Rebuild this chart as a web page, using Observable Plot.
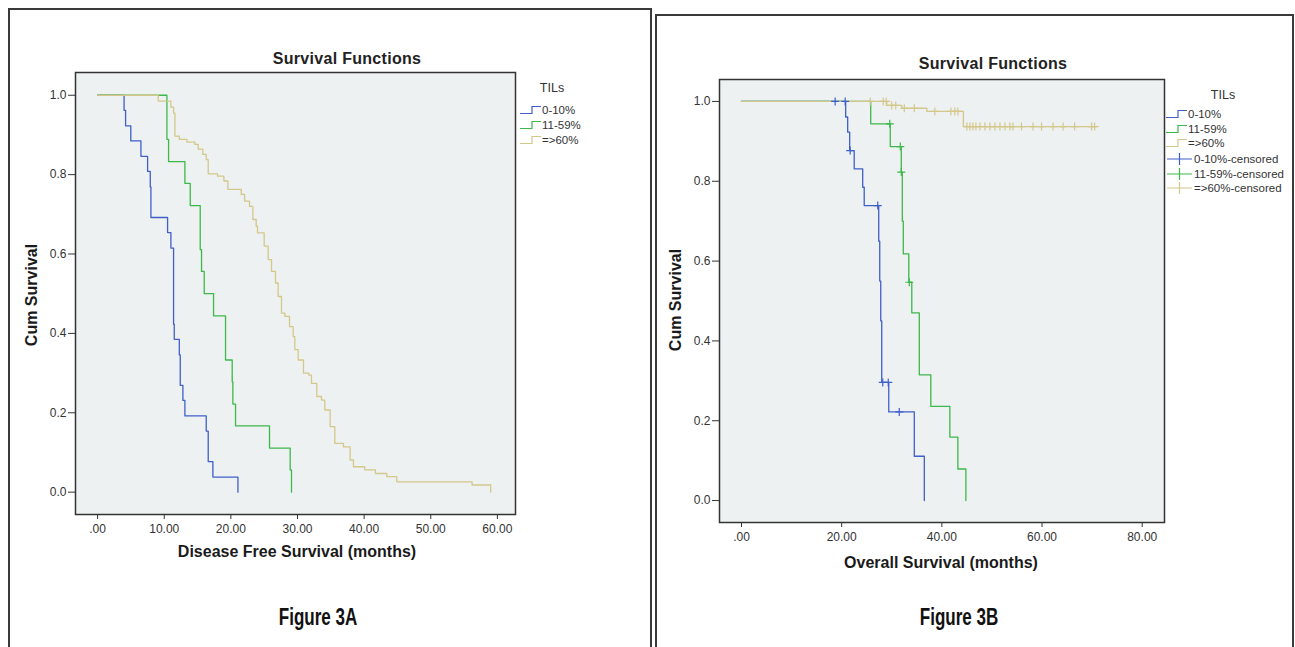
<!DOCTYPE html>
<html>
<head>
<meta charset="utf-8">
<script src="https://cdn.jsdelivr.net/npm/d3@7"></script>
<script src="https://cdn.jsdelivr.net/npm/@observablehq/plot@0.6"></script>
<style>
  html, body { margin: 0; padding: 0; background: #fff; }
  body { width: 1295px; height: 647px; position: relative; overflow: hidden; font-family: "Liberation Sans", Arial, sans-serif; color: #222; }
  .box { position: absolute; box-sizing: border-box; border: 2px solid #3a3a3a; }
  .t { position: absolute; white-space: nowrap; transform: translate(-50%, -50%); }
  .title { font-weight: bold; font-size: 16px; letter-spacing: 0.3px; color: #222; }
  .axl { font-weight: bold; font-size: 16px; color: #1a1a1a; }
  .fig { font-family: "Liberation Sans", Arial, sans-serif; font-weight: bold; font-size: 23px; color: #111; }
  .leg { position: absolute; font-size: 11.5px; color: #333; white-space: nowrap; }
  .plot { position: absolute; top: 0; }
</style>
</head>
<body>
<div class="box" style="left:8px;top:8px;width:644px;height:650px;"></div>
<div class="box" style="left:655px;top:14px;width:639px;height:645px;"></div>
<div id="chartA" class="plot" style="left:0px;"></div>
<div id="chartB" class="plot" style="left:655px;"></div>
<div id="labels"></div>
<script>
// ---------- DATA ----------
const groups = ["0-10%", "11-59%", "=>60%"];
const groupColors = ["#3f5fcb", "#3db84a", "#d3c88a"];

const xTicksA = [0, 10, 20, 30, 40, 50, 60];
const xTicksB = [0, 20, 40, 60, 80];
const yTicks = [0, 0.2, 0.4, 0.6, 0.8, 1.0];

// Figure 3A: Disease free survival (step curves: value after each event time)
const dfsBlueT = [0, 3.97, 4.2, 4.98, 6.5, 7.5, 7.9, 8.0, 10.5, 11.0, 11.4, 11.5, 12.26, 12.4, 12.8, 13.1, 16.3, 16.6, 17.3, 21.06];
const dfsBlueS = [1, 0.962, 0.923, 0.885, 0.846, 0.808, 0.769, 0.692, 0.654, 0.615, 0.423, 0.385, 0.346, 0.269, 0.231, 0.192, 0.154, 0.077, 0.038, 0];

const dfsGreenT = [0, 10.4, 10.65, 13.1, 13.9, 15.4, 15.6, 16.0, 17.4, 19.2, 20.2, 20.3, 20.7, 25.8, 28.9, 29.1];
const dfsGreenS = [1, 0.889, 0.833, 0.778, 0.722, 0.611, 0.556, 0.5, 0.444, 0.333, 0.278, 0.222, 0.167, 0.111, 0.056, 0];

const dfsTanT = [0, 9.1, 11.0, 11.4, 11.6, 12.26, 13.4, 14.6, 15.1, 15.8, 16.3, 16.6, 18.0, 18.95, 19.55, 21.56, 22.06, 22.8, 23.3, 23.8, 24.0, 25.0, 25.6, 26.1, 26.7, 27.1, 27.6, 28.1, 28.8, 29.35, 29.6, 30.1, 30.9, 31.7, 32.1, 32.9, 33.6, 34.1, 34.9, 35.6, 36.9, 37.9, 38.4, 40.1, 41.7, 43.4, 44.9, 56.2, 59.0];
const dfsTanS = [1, 0.985, 0.97, 0.955, 0.897, 0.889, 0.882, 0.876, 0.864, 0.851, 0.838, 0.802, 0.796, 0.784, 0.763, 0.75, 0.733, 0.72, 0.687, 0.67, 0.653, 0.62, 0.586, 0.556, 0.527, 0.493, 0.451, 0.443, 0.417, 0.392, 0.359, 0.333, 0.3, 0.295, 0.274, 0.241, 0.232, 0.207, 0.165, 0.123, 0.114, 0.081, 0.064, 0.056, 0.047, 0.039, 0.026, 0.018, 0];

// Figure 3B: Overall survival
const osBlueT = [0, 20.8, 21.2, 21.6, 22.5, 24.2, 24.5, 27.4, 27.6, 27.8, 28.0, 29.4, 34.5, 36.5];
const osBlueS = [1, 0.961, 0.923, 0.877, 0.831, 0.785, 0.739, 0.65, 0.55, 0.45, 0.296, 0.222, 0.111, 0];
const osBlueCensT = [18.7, 20.7, 21.7, 27.2, 28.2, 29.3, 31.5];
const osBlueCensS = [1, 1, 0.877, 0.739, 0.296, 0.296, 0.222];

const osGreenT = [0, 25.8, 29.7, 31.9, 32.1, 32.3, 33.4, 34.0, 35.5, 37.8, 41.6, 43.2, 44.8];
const osGreenS = [1, 0.944, 0.887, 0.823, 0.70, 0.618, 0.547, 0.47, 0.315, 0.236, 0.159, 0.079, 0];
const osGreenCensT = [29.6, 31.7, 31.9, 33.5];
const osGreenCensS = [0.944, 0.887, 0.823, 0.547];

const osTanT = [0, 29.0, 32.0, 37.0, 44.3, 70.9];
const osTanS = [1, 0.99, 0.983, 0.975, 0.937, 0.937];
const osTanCensT = [25.7, 28.3, 28.9, 30.0, 30.8, 32.5, 34.5, 38.6, 41.8, 42.6, 43.2, 45.0, 45.6, 46.2, 46.8, 47.6, 48.6, 49.6, 50.6, 51.6, 52.6, 53.6, 54.2, 55.9, 58.2, 59.9, 62.2, 64.2, 66.5, 69.9, 70.5];

// ---------- HELPERS ----------
const zip = (T, S) => T.map((t, i) => ({t, s: S[i]}));
function stepAt(T, S, t) { let v = S[0]; for (let i = 0; i < T.length; i++) if (T[i] <= t) v = S[i]; return v; }
const plusSym = { draw(ctx, size) { const r = Math.sqrt(size / Math.PI); ctx.moveTo(-r, 0); ctx.lineTo(r, 0); ctx.moveTo(0, -r); ctx.lineTo(0, r); } };
const fmtX = d => d === 0 ? ".00" : d.toFixed(2);
const fmtY = d => d.toFixed(1);
const plotStyle = {fontFamily: "'Liberation Sans', Arial, sans-serif", fontSize: "12px", color: "#333", background: "transparent", overflow: "visible"};
const bg = "#eef1f2";
const order = [0, 1, 2]; // tan drawn last (on top)

// ---------- CHART A ----------
const curvesA = [zip(dfsBlueT, dfsBlueS), zip(dfsGreenT, dfsGreenS), zip(dfsTanT, dfsTanS)];
const chartA = Plot.plot({
  width: 652, height: 600,
  marginLeft: 75, marginTop: 72, marginRight: 137, marginBottom: 86,
  style: plotStyle,
  x: {domain: [-3.32, 62.72], ticks: xTicksA, tickFormat: fmtX, tickSize: 5, tickPadding: 5, label: null},
  y: {domain: [-0.0563, 1.0573], ticks: yTicks, tickFormat: fmtY, tickSize: 7, tickPadding: 2, label: null},
  marks: [
    Plot.frame({fill: bg, stroke: null}),
    ...order.map(i => Plot.line(curvesA[i], {x: "t", y: "s", curve: "step-after", stroke: groupColors[i], strokeWidth: 1.3})),
    Plot.frame({stroke: "#333", strokeWidth: 1.5})
  ]
});
document.getElementById("chartA").appendChild(chartA);

// ---------- CHART B ----------
const curvesB = [zip(osBlueT, osBlueS), zip(osGreenT, osGreenS), zip(osTanT, osTanS)];
const censB = [
  zip(osBlueCensT, osBlueCensS),
  zip(osGreenCensT, osGreenCensS),
  osTanCensT.map(t => ({t, s: stepAt(osTanT, osTanS, t)}))
];
const chartB = Plot.plot({
  width: 640, height: 600,
  marginLeft: 64, marginTop: 79, marginRight: 131, marginBottom: 78,
  style: plotStyle,
  x: {domain: [-4.39, 84.45], ticks: xTicksB, tickFormat: fmtX, tickSize: 5, tickPadding: 5, label: null},
  y: {domain: [-0.055, 1.055], ticks: yTicks, tickFormat: fmtY, tickSize: 7, tickPadding: 2, label: null},
  marks: [
    Plot.frame({fill: bg, stroke: null}),
    ...order.map(i => Plot.line(curvesB[i], {x: "t", y: "s", curve: "step-after", stroke: groupColors[i], strokeWidth: 1.3})),
    ...order.map(i => Plot.dot(censB[i], {x: "t", y: "s", symbol: plusSym, r: 4, fill: "none", stroke: groupColors[i], strokeWidth: 1.2})),
    Plot.frame({stroke: "#333", strokeWidth: 1.5})
  ]
});
document.getElementById("chartB").appendChild(chartB);

// ---------- TEXT & LEGENDS ----------
const L = document.getElementById("labels");
function txt(cls, s, x, y, tf) {
  const d = document.createElement("div");
  d.className = "t " + cls; d.textContent = s;
  d.style.left = x + "px"; d.style.top = y + "px";
  if (tf) d.style.transform = "translate(-50%,-50%) " + tf;
  L.appendChild(d);
  return d;
}
txt("title", "Survival Functions", 347, 59);
txt("title", "Survival Functions", 993, 64);
txt("axl", "Cum Survival", 32, 295, "rotate(-90deg)");
txt("axl", "Cum Survival", 676, 300, "rotate(-90deg)");
txt("axl", "Disease Free Survival (months)", 297, 552);
txt("axl", "Overall Survival (months)", 941, 563);
txt("fig", "Figure 3A", 318, 617, "scaleX(0.74)");
txt("fig", "Figure 3B", 959, 617, "scaleX(0.74)");
txt("leg", "TILs", 552, 88).style.fontSize = "12.5px";
txt("leg", "TILs", 1223, 95).style.fontSize = "12.5px";

function legItem(kind, color, label, x, y) {
  const d = document.createElement("div");
  d.className = "leg";
  d.style.left = x + "px"; d.style.top = (y - 8) + "px";
  d.style.display = "flex"; d.style.alignItems = "center";
  const ns = "http://www.w3.org/2000/svg";
  const svg = document.createElementNS(ns, "svg");
  svg.setAttribute("width", kind === "step" ? 21 : 27);
  svg.setAttribute("height", 16);
  const p = document.createElementNS(ns, "path");
  p.setAttribute("d", kind === "step" ? "M0,11.5H12V4.5H21" : "M1,8H26M13.5,2V14");
  p.setAttribute("fill", "none"); p.setAttribute("stroke", color); p.setAttribute("stroke-width", "1.2");
  svg.appendChild(p);
  d.appendChild(svg);
  const s = document.createElement("span"); s.textContent = label; s.style.marginLeft = "1px";
  d.appendChild(s);
  L.appendChild(d);
}
const legYA = [110, 125, 140];
groups.forEach((g, i) => legItem("step", groupColors[i], g, 520, legYA[i]));
const legYB = [114, 129, 143, 159, 174, 188];
groups.forEach((g, i) => legItem("step", groupColors[i], g, 1166, legYB[i]));
groups.forEach((g, i) => legItem("plus", groupColors[i], g + "-censored", 1166, legYB[i + 3]));
</script>
</body>
</html>
